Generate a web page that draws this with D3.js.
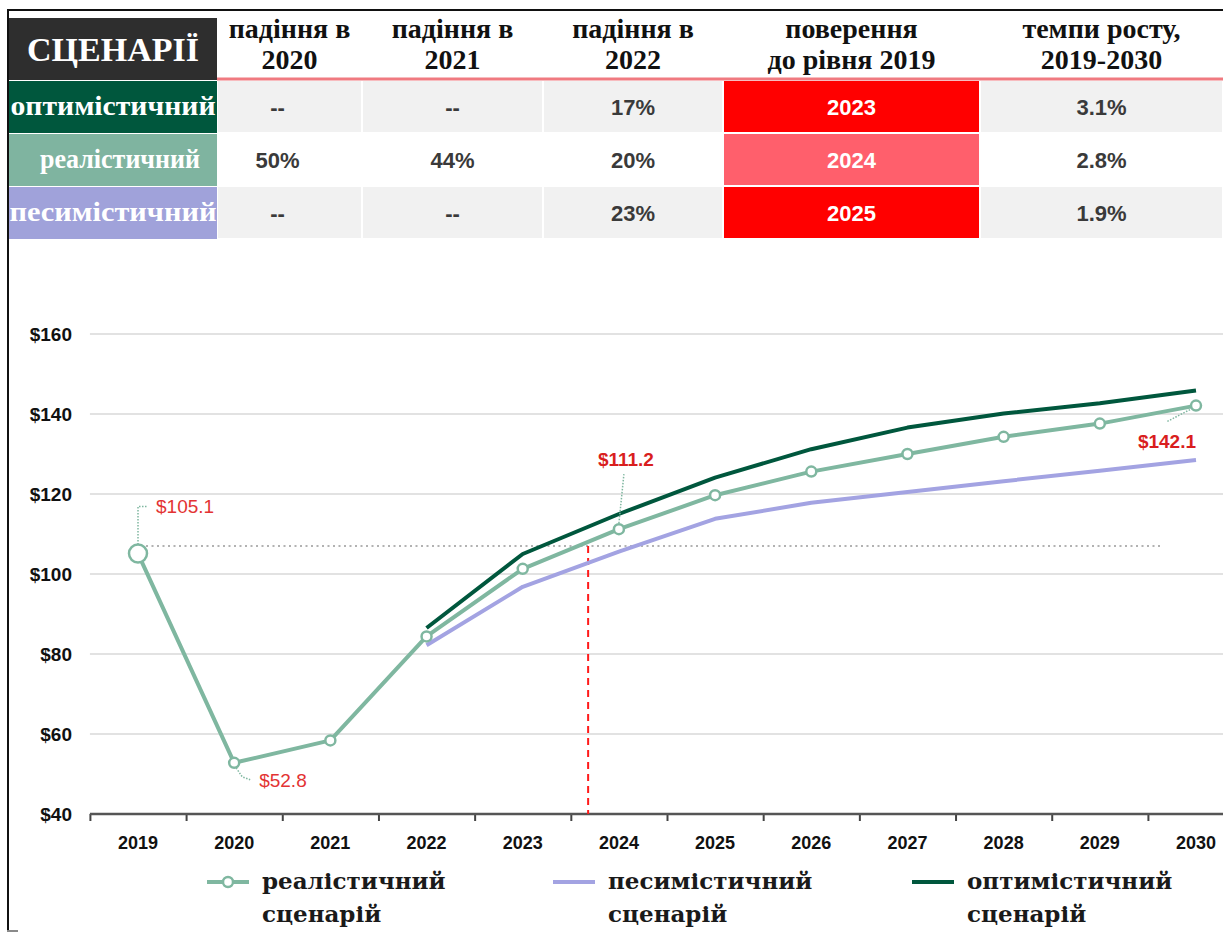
<!DOCTYPE html>
<html>
<head>
<meta charset="utf-8">
<script src="https://cdn.jsdelivr.net/npm/d3@7"></script>
<style>
    body { margin: 0; background: #fff; }
    svg { display: block; }
</style>
</head>
<body>
<div id="chart"></div>
<script>
// ---- table data ----
const scenarioNames = ["оптимістичний", "реалістичний", "песимістичний"];
const scenarioColors = ["#00573d", "#7fb4a0", "#a0a2da"];
const columnHeaders = [
    ["падіння в", "2020"],
    ["падіння в", "2021"],
    ["падіння в", "2022"],
    ["поверення", "до рівня 2019"],
    ["темпи росту,", "2019-2030"]
];
const fall2020 = ["--", "50%", "--"];
const fall2021 = ["--", "44%", "--"];
const fall2022 = ["17%", "20%", "23%"];
const recoveryYear = ["2023", "2024", "2025"];
const growthRate = ["3.1%", "2.8%", "1.9%"];

// ---- chart data ----
const years = [2019, 2020, 2021, 2022, 2023, 2024, 2025, 2026, 2027, 2028, 2029, 2030];
const realistic = [105.1, 52.8, 58.4, 84.4, 101.3, 111.2, 119.7, 125.6, 130.0, 134.3, 137.6, 142.1];
const optimistic = [null, null, null, 86.5, 105.0, 115.0, 124.1, 131.2, 136.6, 140.1, 142.7, 145.9];
const pessimistic = [null, null, null, 82.2, 96.8, 105.6, 113.8, 117.8, 120.5, 123.2, 125.8, 128.5];
const yTicks = [40, 60, 80, 100, 120, 140, 160];
const level2019 = 107;
const returnYear = 2023.68;
const legendNames = ["реалістичний", "песимістичний", "оптимістичний"];

const width = 1223, height = 936;

const svg = d3.select("#chart")
    .append("svg")
    .attr("width", width)
    .attr("height", height);

// frame
svg.append("line").attr("x1", 7).attr("x2", width).attr("y1", 10).attr("y2", 10)
    .attr("stroke", "#111").attr("stroke-width", 2);
svg.append("line").attr("x1", 8).attr("x2", 8).attr("y1", 10).attr("y2", 932)
    .attr("stroke", "#111").attr("stroke-width", 2);
svg.append("line").attr("x1", 7).attr("x2", 18).attr("y1", 931).attr("y2", 931)
    .attr("stroke", "#8a8a8a").attr("stroke-width", 2);

// ---------------- table ----------------
const colEdges = [217, 362, 543, 723, 980, 1223];
const rowTop = 80, rowH = 53;
const serif = "'Liberation Serif', 'Times New Roman', serif";
const sans = "'Liberation Sans', Arial, sans-serif";

const table = svg.append("g");

table.append("rect")
    .attr("x", 9).attr("y", 18)
    .attr("width", colEdges[0] - 9).attr("height", rowTop - 18)
    .attr("fill", "#2e2e2e");

table.append("text")
    .attr("x", 113).attr("y", 61)
    .attr("text-anchor", "middle")
    .attr("font-family", serif)
    .attr("font-weight", "bold")
    .attr("font-size", 34)
    .attr("fill", "#fff")
    .text("СЦЕНАРІЇ");

// column headers
columnHeaders.forEach((lines, i) => {
    const cx = (colEdges[i] + colEdges[i + 1]) / 2;
    lines.forEach((t, j) => {
        table.append("text")
            .attr("x", cx).attr("y", 38 + j * 31)
            .attr("text-anchor", "middle")
            .attr("font-family", serif)
            .attr("font-weight", "bold")
            .attr("font-size", 28)
            .attr("fill", "#111")
            .text(t);
    });
});

table.append("line")
    .attr("x1", colEdges[0]).attr("x2", width)
    .attr("y1", rowTop - 1).attr("y2", rowTop - 1)
    .attr("stroke", "#f07a80").attr("stroke-width", 3);

const columns = [fall2020, fall2021, fall2022, recoveryYear, growthRate];
const labelWidths = [205, 160, 207];
const labelCenters = [113, 120, 113];

scenarioNames.forEach((name, r) => {
    const y0 = rowTop + r * rowH;
    const rowFill = r === 1 ? "#ffffff" : "#f1f1f1";

    table.append("rect")
        .attr("x", 9).attr("y", y0 + 1)
        .attr("width", colEdges[0] - 9).attr("height", rowH - 1)
        .attr("fill", scenarioColors[r]);

    table.append("text")
        .attr("x", labelCenters[r]).attr("y", y0 + 35)
        .attr("text-anchor", "middle")
        .attr("font-family", serif)
        .attr("font-weight", "bold")
        .attr("font-size", 28)
        .attr("textLength", labelWidths[r])
        .attr("lengthAdjust", "spacingAndGlyphs")
        .attr("fill", "#fff")
        .text(name);

    columns.forEach((col, c) => {
        const isReturn = c === 3;
        let fill = rowFill;
        if (isReturn) fill = r === 1 ? "#ff5f6c" : "#ff0000";
        table.append("rect")
            .attr("x", colEdges[c] + 1).attr("y", y0 + 1)
            .attr("width", colEdges[c + 1] - colEdges[c] - 2).attr("height", rowH - 2)
            .attr("fill", fill);
        table.append("text")
            .attr("x", (colEdges[c] + colEdges[c + 1]) / 2 - (c === 0 ? 12 : 0))
            .attr("y", y0 + 35)
            .attr("text-anchor", "middle")
            .attr("font-family", sans)
            .attr("font-weight", "bold")
            .attr("font-size", 22)
            .attr("fill", isReturn ? "#fff" : "#3a3a3a")
            .text(col[r]);
    });
});

// ---------------- chart ----------------
const x = d3.scaleLinear().domain([2019, 2030]).range([138, 1196]);
const y = d3.scaleLinear().domain([40, 160]).range([814, 334]);
const step = x(2020) - x(2019);

const chart = svg.append("g");

// gridlines
chart.selectAll(".grid")
    .data(yTicks.filter(d => d > 40))
    .join("line")
    .attr("class", "grid")
    .attr("x1", x(2019) - step / 2).attr("x2", width)
    .attr("y1", d => y(d)).attr("y2", d => y(d))
    .attr("stroke", "#e2e2e2")
    .attr("stroke-width", 2);

// y labels
chart.selectAll(".ylab")
    .data(yTicks)
    .join("text")
    .attr("class", "ylab")
    .attr("x", 72)
    .attr("y", d => y(d) + 7)
    .attr("text-anchor", "end")
    .attr("font-family", sans)
    .attr("font-weight", "bold")
    .attr("font-size", 19)
    .attr("fill", "#111")
    .text(d => "$" + d);

// x axis: ticks between categories
const xAxis = d3.axisBottom(x)
    .tickValues(d3.range(2018.5, 2031, 1))
    .tickSize(7)
    .tickFormat("");

chart.append("g")
    .attr("transform", `translate(0,${y(40)})`)
    .call(xAxis)
    .call(g => g.select(".domain").remove())
    .call(g => g.selectAll(".tick line").attr("stroke", "#444").attr("stroke-width", 2));

chart.append("line")
    .attr("x1", x(2019) - step / 2).attr("x2", width)
    .attr("y1", y(40)).attr("y2", y(40))
    .attr("stroke", "#555").attr("stroke-width", 2.5);

chart.selectAll(".xlab")
    .data(years)
    .join("text")
    .attr("class", "xlab")
    .attr("x", d => x(d))
    .attr("y", 849)
    .attr("text-anchor", "middle")
    .attr("font-family", sans)
    .attr("font-weight", "bold")
    .attr("font-size", 18)
    .attr("fill", "#111")
    .text(d => d);

// 2019 level reference
chart.append("line")
    .attr("x1", x(2019) + 8).attr("x2", x(2029.65))
    .attr("y1", y(level2019)).attr("y2", y(level2019))
    .attr("stroke", "#999")
    .attr("stroke-width", 1.6)
    .attr("stroke-dasharray", "2,3.5");

chart.append("line")
    .attr("x1", x(returnYear)).attr("x2", x(returnYear))
    .attr("y1", y(level2019)).attr("y2", y(40))
    .attr("stroke", "#ff1a1a")
    .attr("stroke-width", 2)
    .attr("stroke-dasharray", "7,5");

const line = d3.line()
    .defined(d => d[1] != null)
    .x(d => x(d[0]))
    .y(d => y(d[1]));

const series = [
    { values: pessimistic, color: "#a3a3e2" },
    { values: optimistic, color: "#00573d" },
    { values: realistic, color: "#7fb7a0" }
];

series.forEach(s => {
    chart.append("path")
        .datum(years.map((yr, i) => [yr, s.values[i]]))
        .attr("d", line)
        .attr("fill", "none")
        .attr("stroke", s.color)
        .attr("stroke-width", 4)
        .attr("stroke-linejoin", "round");
});

chart.selectAll(".marker")
    .data(years.map((yr, i) => [yr, realistic[i]]))
    .join("circle")
    .attr("class", "marker")
    .attr("cx", d => x(d[0]))
    .attr("cy", d => y(d[1]))
    .attr("r", (d, i) => i === 0 ? 9 : 5)
    .attr("fill", "#fff")
    .attr("stroke", "#7fb7a0")
    .attr("stroke-width", 2.5);

// value callouts
const callouts = [
    { year: 2019, value: realistic[0], bold: false, leader: [[0, -9], [0, -47], [10, -47]], dx: 18, dy: -41 },
    { year: 2020, value: realistic[1], bold: false, leader: [[2, 5], [8, 14], [16, 17]], dx: 25, dy: 24 },
    { year: 2024, value: realistic[5], bold: true, leader: [[0, -6], [5, -55]], dx: 7, dy: -63 },
    { year: 2030, value: realistic[11], bold: true, leader: [[-6, 4], [-29, 16]], dx: 0, dy: 42 }
];

callouts.forEach(c => {
    const px = x(c.year), py = y(c.value);
    chart.append("path")
        .attr("d", d3.line()(c.leader.map(p => [px + p[0], py + p[1]])))
        .attr("fill", "none")
        .attr("stroke", "#7fb7a0")
        .attr("stroke-width", 1.5)
        .attr("stroke-dasharray", "1.5,1.5");
    chart.append("text")
        .attr("x", px + c.dx)
        .attr("y", py + c.dy)
        .attr("text-anchor", c.year === 2030 ? "end" : (c.year === 2024 ? "middle" : "start"))
        .attr("font-family", sans)
        .attr("font-weight", c.bold ? "bold" : "normal")
        .attr("font-size", 19)
        .attr("fill", c.bold ? "#d91e1e" : "#e33333")
        .text("$" + c.value.toFixed(1));
});

// legend
const legendX = [207, 553, 912];
const legendColors = ["#7fb7a0", "#a3a3e2", "#00573d"];
const legend = svg.append("g");

legendNames.forEach((name, i) => {
    const lx = legendX[i];
    legend.append("line")
        .attr("x1", lx).attr("x2", lx + 42)
        .attr("y1", 882).attr("y2", 882)
        .attr("stroke", legendColors[i])
        .attr("stroke-width", 4);
    if (i === 0) {
        legend.append("circle")
            .attr("cx", lx + 21).attr("cy", 882).attr("r", 5)
            .attr("fill", "#fff")
            .attr("stroke", legendColors[i])
            .attr("stroke-width", 2.5);
    }
    legend.append("text")
        .attr("x", lx + 55).attr("y", 889)
        .attr("font-family", "'DejaVu Serif', serif")
        .attr("font-weight", "bold")
        .attr("font-size", 23)
        .attr("fill", "#1a1a1a")
        .text(name);
    legend.append("text")
        .attr("x", lx + 55).attr("y", 922)
        .attr("font-family", "'DejaVu Serif', serif")
        .attr("font-weight", "bold")
        .attr("font-size", 23)
        .attr("fill", "#1a1a1a")
        .text("сценарій");
});
</script>
</body>
</html>
